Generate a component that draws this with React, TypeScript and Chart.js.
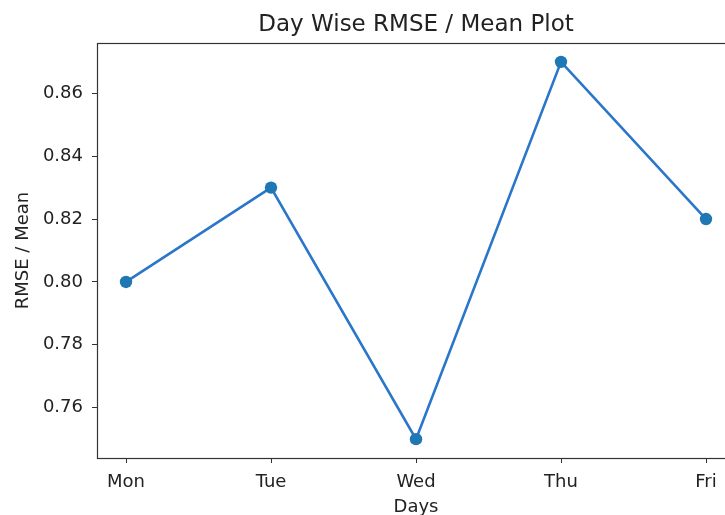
import React, { useEffect, useRef } from "react";
import { Chart, registerables } from "chart.js";

Chart.register(...registerables);

const days = ["Mon", "Tue", "Wed", "Thu", "Fri"];
const rmseMean = [0.8, 0.83, 0.75, 0.87, 0.82];
const yTicks = [0.76, 0.78, 0.8, 0.82, 0.84, 0.86];

const FONT = "'DejaVu Sans', sans-serif";
const INK = "#222";

const spinePlugin = {
  id: "spines",
  afterDatasetsDraw(chart: any) {
    const { ctx, chartArea } = chart;
    ctx.save();
    ctx.strokeStyle = "#333";
    ctx.lineWidth = 1.2;
    ctx.strokeRect(
      Math.round(chartArea.left) + 0.5,
      Math.round(chartArea.top) + 0.5,
      Math.round(chartArea.right - chartArea.left),
      Math.round(chartArea.bottom - chartArea.top)
    );
    ctx.restore();
  },
};

export default function App() {
  const ref = useRef<HTMLCanvasElement>(null);
  useEffect(() => {
    if (!ref.current) return;
    const chart = new Chart(ref.current, {
      type: "line",
      data: {
        datasets: [
          {
            data: rmseMean.map((v, i) => ({ x: i, y: v })),
            borderColor: "#2a76c9",
            borderWidth: 2.6,
            pointRadius: 6.2,
            pointHoverRadius: 6.2,
            pointBorderWidth: 0,
            pointBackgroundColor: "#1f77b4",
            tension: 0,
          },
        ],
      },
      options: {
        responsive: false,
        animation: false,
        events: [],
        layout: { padding: { left: 0, right: 10, top: 0, bottom: 0 } },
        plugins: {
          legend: { display: false },
          tooltip: { enabled: false },
          title: {
            display: true,
            fullSize: false,
            text: "Day Wise RMSE / Mean Plot",
            color: INK,
            font: { family: FONT, size: 23, weight: "normal" as any, lineHeight: 1.2 },
            padding: { top: 11, bottom: 4.4 },
          },
        },
        scales: {
          x: {
            type: "linear",
            min: -0.2,
            max: 4.2,
            afterFit: (s: any) => {
              s.height = 60;
            },
            afterBuildTicks: (s: any) => {
              s.ticks = days.map((_, i) => ({ value: i }));
            },
            border: { display: false },
            grid: {
              drawOnChartArea: false,
              drawTicks: true,
              tickLength: 5,
              color: "#333",
            },
            ticks: {
              color: INK,
              font: { family: FONT, size: 18 },
              padding: 9,
              maxRotation: 0,
              autoSkip: false,
              callback: (v: any) => days[v as number] ?? "",
            },
            title: {
              display: true,
              text: "Days",
              color: INK,
              font: { family: FONT, size: 18 },
              padding: { top: 0, bottom: 0 },
            },
          },
          y: {
            type: "linear",
            min: 0.744,
            max: 0.876,
            afterFit: (s: any) => {
              s.width = 97;
            },
            afterBuildTicks: (s: any) => {
              s.ticks = yTicks.map((v) => ({ value: v }));
            },
            border: { display: false },
            grid: {
              drawOnChartArea: false,
              drawTicks: true,
              tickLength: 5,
              color: "#333",
            },
            ticks: {
              color: INK,
              font: { family: FONT, size: 18 },
              padding: 9,
              callback: (v: any) => Number(v).toFixed(2),
            },
            title: {
              display: true,
              text: "RMSE / Mean",
              color: INK,
              font: { family: FONT, size: 18 },
              padding: { top: 13, bottom: 13 },
            },
          },
        },
      },
      plugins: [spinePlugin],
    });
    return () => chart.destroy();
  }, []);
  return (
    <div
      style={{
        position: "fixed",
        left: 0,
        top: 0,
        width: 725,
        height: 515,
        overflow: "hidden",
        background: "#fff",
      }}
    >
      <canvas ref={ref} width={745} height={518} style={{ display: "block" }} />
    </div>
  );
}
